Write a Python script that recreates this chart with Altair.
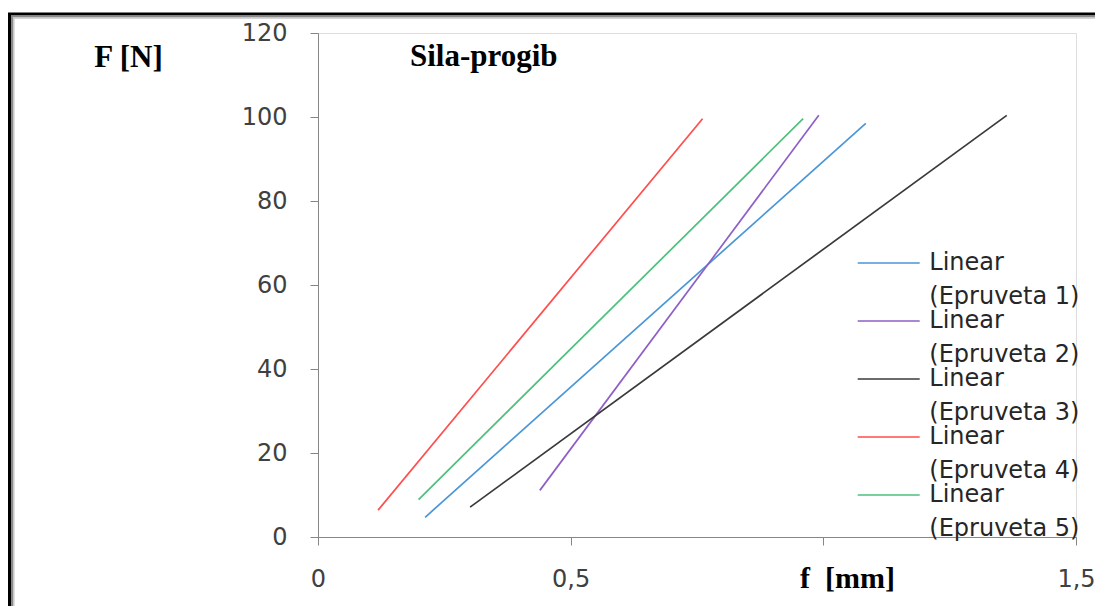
import altair as alt
import pandas as pd

# ---- data (linear trend lines, start/end points) ----
series = ["Epruveta 1", "Epruveta 2", "Epruveta 3", "Epruveta 4", "Epruveta 5"]
x_start = [0.212, 0.439, 0.301, 0.119, 0.199]
x_end = [1.084, 0.991, 1.363, 0.761, 0.960]
f_start = [4.7, 11.1, 7.1, 6.4, 8.9]
f_end = [98.5, 100.4, 100.4, 99.6, 99.6]
colors = ["#4a96d6", "#8e5fc6", "#3a3a3a", "#ff4c4c", "#4cc07c"]

x_ticks = [0, 0.5, 1, 1.5]
y_ticks = [0, 20, 40, 60, 80, 100, 120]

rows = []
for s, xa, xb, fa, fb in zip(series, x_start, x_end, f_start, f_end):
    rows.append({"serija": s, "f": xa, "F": fa})
    rows.append({"serija": s, "f": xb, "F": fb})
df = pd.DataFrame(rows)

W, H = 758, 504
LABEL_FONT = "DejaVu Sans"

lines = alt.Chart(df).mark_line(strokeWidth=1.7).encode(
    x=alt.X("f:Q",
            scale=alt.Scale(domain=[0, 1.5], nice=False, zero=False),
            axis=alt.Axis(values=x_ticks, grid=False, tickSize=8, labelFlush=False,
                          labelExpr="datum.value == 0 ? '0' : datum.value == 0.5 ? '0,5' : datum.value == 1.5 ? '1,5' : ''",
                          labelPadding=22, labelFontSize=24, labelFont=LABEL_FONT,
                          labelColor="#404040", domainColor="#868686", tickColor="#868686",
                          title="f\u00a0\u00a0[mm]", titleFont="Liberation Serif",
                          titleFontWeight="bold", titleFontSize=30, titleColor="black",
                          titleX=529, titleY=41, titleBaseline="middle", titleAlign="center")),
    y=alt.Y("F:Q",
            scale=alt.Scale(domain=[0, 120], nice=False, zero=False),
            axis=alt.Axis(values=y_ticks, grid=False, tickSize=8, labelFlush=False,
                          labelPadding=23, labelFontSize=24, labelFont=LABEL_FONT,
                          labelColor="#404040", domainColor="#868686", tickColor="#868686",
                          title="F [N]", titleFont="Liberation Serif", titleFontWeight="bold",
                          titleFontSize=31, titleColor="black", titleAngle=0,
                          titleX=-190, titleY=24, titleBaseline="middle", titleAlign="center")),
    color=alt.Color("serija:N",
                    scale=alt.Scale(domain=series, range=colors),
                    legend=alt.Legend(orient="none", legendX=527.7, legendY=218,
                                      title=None, symbolType="M0,0H6", symbolSize=427,
                                      symbolStrokeWidth=1.6, labelFont=LABEL_FONT,
                                      labelFontSize=24, labelColor="#262626",
                                      labelOffset=59.6, rowPadding=0, labelLimit=300,
                                      labelExpr="['Linear', '(' + datum.label + ')']",
                                      labelBaseline="middle")),
    detail="serija:N",
)

frame_df = pd.DataFrame({"k": [0]})
frame_black = alt.Chart(frame_df).mark_rect(fillOpacity=0, stroke="black", strokeWidth=3, clip=False).encode(
    x=alt.value(-308.5), x2=alt.value(W + 60), y=alt.value(-19), y2=alt.value(H + 120))
frame_gray = alt.Chart(frame_df).mark_rect(fillOpacity=0, stroke="#8a8a8a", strokeWidth=2, clip=False).encode(
    x=alt.value(-306), x2=alt.value(W + 60), y=alt.value(-16.5), y2=alt.value(H + 120))
frame_light = alt.Chart(frame_df).mark_rect(fillOpacity=0, stroke="#c8c8c8", strokeWidth=1.5, clip=False).encode(
    x=alt.value(-304.2), x2=alt.value(W + 60), y=alt.value(-15), y2=alt.value(H + 120))

chart = alt.layer(frame_black, frame_gray, frame_light, lines).properties(
    width=W, height=H,
    title=alt.Title("Sila-progib", anchor="start", frame="group", dx=92, dy=75,
                    font="Liberation Serif", fontSize=31, fontWeight="bold", color="black",
                    baseline="middle", offset=0),
    autosize=alt.AutoSizeParams(type="none"),
    padding={"left": 310, "top": 25, "right": 19, "bottom": 69},
).configure_view(stroke=None).configure(
    background="white", style={"guide-label": {"lineHeight": 34}})

chart.save("out.html", embed_options={"renderer": "svg", "actions": False})
